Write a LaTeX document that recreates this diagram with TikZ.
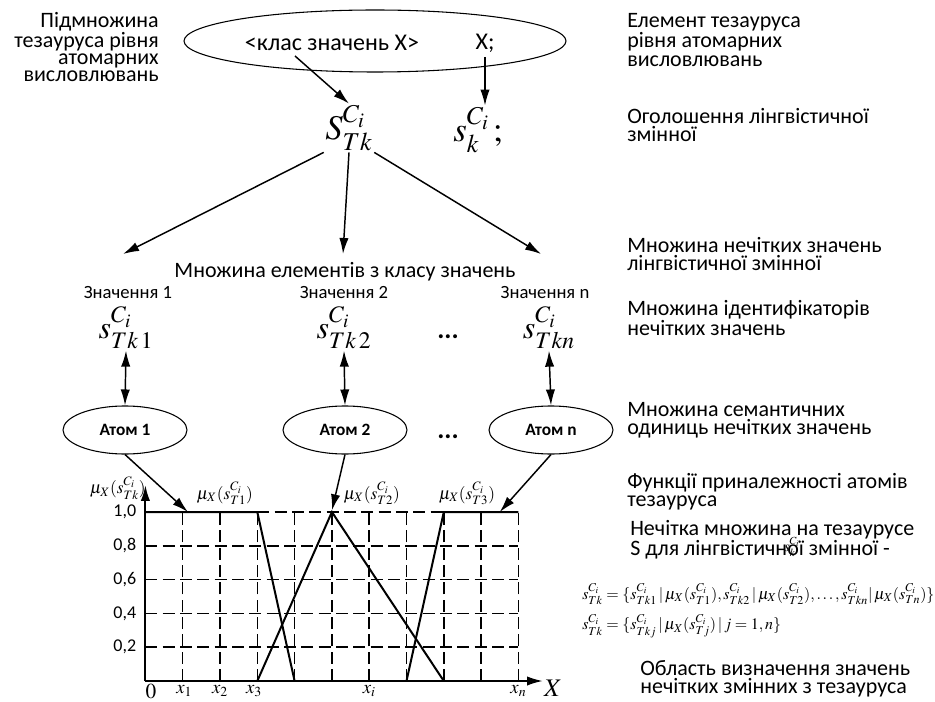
\documentclass[tikz,border=0pt]{standalone}
\usepackage{fontspec}
\usepackage{mathptmx}
\setmainfont{Carlito}
\usetikzlibrary{arrows.meta,shapes.geometric}

\tikzset{
  lbl/.style={font=\fontsize{16.5}{13.8}\selectfont, align=left, anchor=west, inner sep=0pt},
  arr/.style={draw, line width=1.1pt, -{Latex[length=12pt,width=7pt]}},
  darr/.style={draw, line width=1.1pt, {Latex[length=12pt,width=7pt]}-{Latex[length=12pt,width=7pt]}},
  atom/.style={draw, ellipse, line width=0.8pt, minimum width=93pt, minimum height=36pt, inner sep=0pt, font=\fontsize{13}{13}\selectfont\bfseries},
  gridl/.style={draw, line width=1.1pt, dash pattern=on 9pt off 4pt},
  curve/.style={draw, line width=1.5pt}
}

\begin{document}
\begin{tikzpicture}[x=0.75pt,y=-0.75pt]
\useasboundingbox (0,0) rectangle (935,702);

% top level
\node[font=\fontsize{16.5}{12.4}\selectfont, align=right, anchor=east, inner sep=0pt] (sub) at (159,47) {Підмножина\\тезауруса рівня\\атомарних\\висловлювань};
\node[draw, ellipse, line width=0.8pt, minimum width=286.5pt, minimum height=46.5pt] (th) at (375,41) {};
\node[font=\fontsize{18}{18}\selectfont] (cls) at (332,43) {<клас значень X>};
\node[font=\fontsize{18}{18}\selectfont] (xs) at (485,43) {X;};
\coordinate (c0) at (295,56);

\node[font=\fontsize{26}{26}\selectfont, inner sep=1pt] (stk) at (349,128) {$S^{C_i}_{Tk}$};
\node[font=\fontsize{26}{26}\selectfont, inner sep=1pt] (sk) at (478,130) {$s^{C_i}_{k}\,;$};

\path[arr] (c0) -- (stk.north);
\path[arr] (xs.south) -- (xs.south |- sk.north);

\coordinate (e1) at (123,254);
\coordinate (e2) at (343,254);
\coordinate (e3) at (541,254);
\path[arr] (stk.south west) -- (e1);
\path[arr] (stk.south) -- (e2);
\path[arr] (stk.south east) -- (e3);

% values
\node[font=\fontsize{16.5}{16.5}\selectfont] (ms) at (345,272) {Множина елементів з класу значень};
\node[font=\fontsize{14}{14}\selectfont] (z1) at (128,293) {Значення 1};
\node[font=\fontsize{14}{14}\selectfont] (z2) at (344,293) {Значення 2};
\node[font=\fontsize{14}{14}\selectfont] (zn) at (545,293) {Значення n};

\node[font=\fontsize{24}{24}\selectfont, inner sep=1pt] (t1) at (126,328) {$s^{C_i}_{Tk\,1}$};
\node[font=\fontsize{24}{24}\selectfont, inner sep=1pt] (t2) at (344,328) {$s^{C_i}_{Tk\,2}$};
\node[font=\fontsize{24}{24}\selectfont, inner sep=1pt] (tn) at (549,328) {$s^{C_i}_{Tkn}$};
\node[font=\fontsize{20}{20}\selectfont\bfseries] (d1) at (448,337) {...};

\node[atom] (a1) at (125,430) {Атом 1};
\node[atom] (a2) at (345,430) {Атом 2};
\node[atom] (an) at (551,430) {Атом n};
\node[font=\fontsize{20}{20}\selectfont\bfseries] (d2) at (448,437) {...};

\path[darr] (t1.south) -- (a1.north);
\path[darr] (t2.south) -- (a2.north);
\path[darr] (tn.south) -- (an.north);

% membership chart
\begin{scope}[shift={(145.4,681)}, x=27.975pt, y=126.75pt]
\path[gridl] (1,0) -- (1,1);
\path[gridl] (2,0) -- (2,1);
\path[gridl] (3,0) -- (3,1);
\path[gridl] (4,0) -- (4,1);
\path[gridl] (5,0) -- (5,1);
\path[gridl] (6,0) -- (6,1);
\path[gridl] (7,0) -- (7,1);
\path[gridl] (8,0) -- (8,1);
\path[gridl] (9,0) -- (9,1);
\path[gridl] (10,0) -- (10,1);
\path[gridl] (0,0.2) -- (10,0.2);
\path[gridl] (0,0.4) -- (10,0.4);
\path[gridl] (0,0.6) -- (10,0.6);
\path[gridl] (0,0.8) -- (10,0.8);
\path[gridl] (3,1) -- (8,1);

\path[curve] (0,1) -- (3,1) -- (4,0);
\path[curve] (3,0) -- (5,1) -- (8,0);
\path[curve] (7,0) -- (8,1) -- (10,1);
\path[curve, -{Latex[length=12pt,width=7pt]}] (0,0) -- (10.66,0);
\path[curve, -{Latex[length=12pt,width=7pt]}] (0,0) -- (0,1.16);

\node[font=\fontsize{13.5}{13.5}\selectfont, anchor=east, inner sep=0pt] (y1) at (-0.24,1) {1,0};
\node[font=\fontsize{13.5}{13.5}\selectfont, anchor=east, inner sep=0pt] (y2) at (-0.24,0.8) {0,8};
\node[font=\fontsize{13.5}{13.5}\selectfont, anchor=east, inner sep=0pt] (y3) at (-0.24,0.6) {0,6};
\node[font=\fontsize{13.5}{13.5}\selectfont, anchor=east, inner sep=0pt] (y4) at (-0.24,0.4) {0,4};
\node[font=\fontsize{13.5}{13.5}\selectfont, anchor=east, inner sep=0pt] (y5) at (-0.24,0.2) {0,2};

\node[font=\fontsize{16}{16}\selectfont] (o) at (0.15,-0.065) {$0$};
\node[font=\fontsize{14}{14}\selectfont] (x1) at (1.04,-0.06) {$x_1$};
\node[font=\fontsize{14}{14}\selectfont] (x2) at (2.0,-0.06) {$x_2$};
\node[font=\fontsize{14}{14}\selectfont] (x3) at (2.91,-0.06) {$x_3$};
\node[font=\fontsize{14}{14}\selectfont] (xi) at (6.0,-0.06) {$x_i$};
\node[font=\fontsize{14}{14}\selectfont] (xn) at (10.0,-0.06) {$x_n$};
\node[font=\fontsize{19}{19}\selectfont, inner sep=1pt] (xx) at (10.93,-0.045) {$X$};

\node[font=\fontsize{13}{13}\selectfont] (m0) at (-0.74,1.14) {$\mu_X(s^{C_i}_{Tk})$};
\node[font=\fontsize{13}{13}\selectfont] (m1) at (2.13,1.11) {$\mu_X(s^{C_i}_{T1})$};
\node[font=\fontsize{13}{13}\selectfont] (m2) at (6.07,1.11) {$\mu_X(s^{C_i}_{T2})$};
\node[font=\fontsize{13}{13}\selectfont] (m3) at (8.62,1.11) {$\mu_X(s^{C_i}_{T3})$};

\coordinate (p1) at (1.14,1);
\coordinate (p2) at (5,1.01);
\coordinate (p3) at (9.5,1);
\end{scope}

\path[arr] (a1.south) -- (p1);
\path[arr] (a2.south) -- (p2);
\path[arr] (an.south) -- (p3);

% right column
\node[lbl] (r1) at (627,40) {Елемент тезауруса\\рівня атомарних\\висловлювань};
\node[lbl] (r2) at (627,125) {Оголошення лінгвістичної\\змінної};
\node[lbl] (r3) at (627,254) {Множина нечітких значень\\лінгвістичної змінної};
\node[lbl] (r4) at (627,318) {Множина ідентифікаторів\\нечітких значень};
\node[lbl] (r5) at (627,420) {Множина семантичних\\одиниць нечітких значень};
\node[lbl] (r6) at (627,492) {Функції приналежності атомів\\тезауруса};
\node[lbl] (r7) at (630,540) {Нечітка множина на тезаурусе\\S для лінгвістичної змінної -};
\node[font=\fontsize{11}{11}\selectfont, inner sep=0pt] (sk2) at (792,547) {$s^{C_i}_{k}$};
\node[lbl] (r8) at (640,679) {Область визначення значень\\нечітких змінних з тезауруса};

\node[font=\fontsize{12}{12}\selectfont, anchor=west, inner sep=0pt] (f1) at (582,594) {$s^{C_i}_{Tk}=\{s^{C_i}_{Tk1}\,|\,\mu_X(s^{C_i}_{T1}),s^{C_i}_{Tk2}\,|\,\mu_X(s^{C_i}_{T2}),\ldots,s^{C_i}_{Tkn}|\,\mu_X(s^{C_i}_{Tn})\}$};
\node[font=\fontsize{12}{12}\selectfont, anchor=west, inner sep=0pt] (f2) at (582,626) {$s^{C_i}_{Tk}=\{s^{C_i}_{Tkj}\,|\,\mu_X(s^{C_i}_{Tj})\,|\,j=1,n\}$};
\end{tikzpicture}
\end{document}
